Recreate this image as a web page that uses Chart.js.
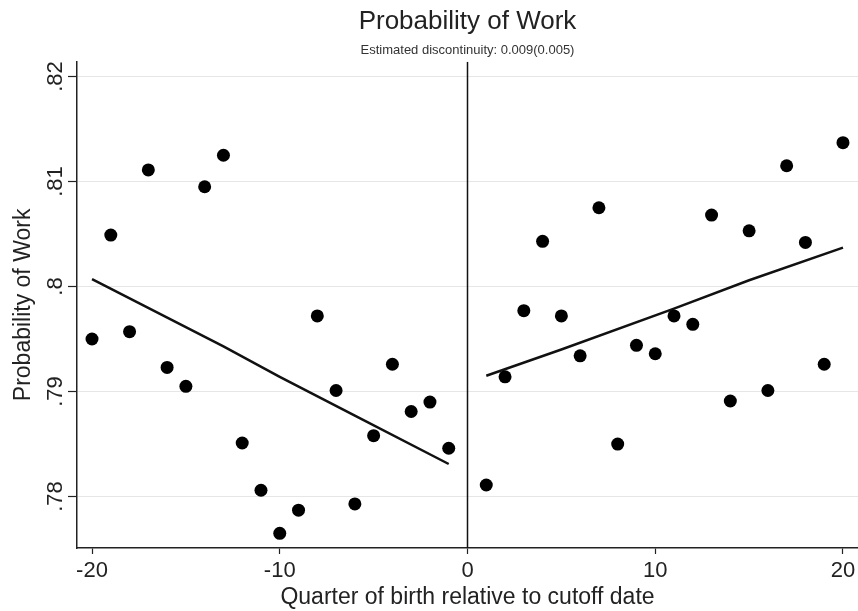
<!DOCTYPE html>
<html>
<head>
<meta charset="utf-8">
<script src="https://cdn.jsdelivr.net/npm/chart.js@4.4.1/dist/chart.umd.min.js"></script>
<style>
  html, body { margin: 0; padding: 0; background: #fff; }
  #wrap { width: 858px; height: 611px; }
</style>
</head>
<body>
<div id="wrap"><canvas id="rdChart" width="858" height="611"></canvas></div>
<script>
// quarter of birth relative to cutoff, mean probability of work
const leftQuarters = [-20, -19, -18, -17, -16, -15, -14, -13, -12, -11, -10, -9, -8, -7, -6, -5, -4, -3, -2, -1];
const leftWork = [0.7950, 0.8049, 0.7957, 0.8111, 0.7923, 0.7905, 0.8095, 0.8125, 0.7851, 0.7806,
                  0.7765, 0.7787, 0.7972, 0.7901, 0.7793, 0.7858, 0.7926, 0.7881, 0.7890, 0.7846];
const rightQuarters = [1, 2, 3, 4, 5, 6, 7, 8, 9, 10, 11, 12, 13, 14, 15, 16, 17, 18, 19, 20];
const rightWork = [0.7811, 0.7914, 0.7977, 0.8043, 0.7972, 0.7934, 0.8075, 0.7850, 0.7944, 0.7936,
                   0.7972, 0.7964, 0.8068, 0.7891, 0.8053, 0.7901, 0.8115, 0.8042, 0.7926, 0.8137];

// fitted lines on each side of the cutoff
const leftFitX = [-20, -13, -10, -6, -1];
const leftFitY = [0.8007, 0.7943, 0.7914, 0.7877, 0.7831];
const rightFitX = [1, 5, 11, 15, 20];
const rightFitY = [0.7915, 0.7940, 0.7979, 0.8006, 0.8037];

const cutoff = 0;
const xTicks = [-20, -10, 0, 10, 20];
const yTicks = [0.78, 0.79, 0.80, 0.81, 0.82];
const yTickLabels = ['.78', '.79', '.8', '.81', '.82'];

const xMin = -20.8, xMax = 20.8;
const yMin = 0.7751, yMax = 0.8214;

const FONT = '"Liberation Sans", Arial, Helvetica, sans-serif';
Chart.defaults.font.family = FONT;
Chart.defaults.color = '#222';

const toPoints = (xs, ys) => xs.map((x, i) => ({ x: x, y: ys[i] }));

const dotStyle = {
    showLine: false,
    pointRadius: 6.5,
    pointBackgroundColor: '#000',
    pointBorderColor: '#000',
    pointBorderWidth: 0
};
const fitStyle = {
    showLine: true,
    pointRadius: 0,
    borderColor: '#111',
    borderWidth: 2.5,
    fill: false
};

const ctx = document.getElementById('rdChart').getContext('2d');
new Chart(ctx, {
    type: 'scatter',
    data: {
        datasets: [
            Object.assign({ label: 'before', data: toPoints(leftQuarters, leftWork) }, dotStyle),
            Object.assign({ label: 'after', data: toPoints(rightQuarters, rightWork) }, dotStyle),
            Object.assign({ label: 'fit before', data: toPoints(leftFitX, leftFitY) }, fitStyle),
            Object.assign({ label: 'fit after', data: toPoints(rightFitX, rightFitY) }, fitStyle),
            {
                label: 'cutoff',
                data: [{ x: cutoff, y: yMin }, { x: cutoff, y: yMax }],
                showLine: true,
                pointRadius: 0,
                borderColor: '#111',
                borderWidth: 1.5
            }
        ]
    },
    options: {
        responsive: false,
        animation: false,
        layout: { autoPadding: false, padding: { left: 0, right: 0, top: 0, bottom: 0 } },
        plugins: {
            legend: { display: false },
            tooltip: { enabled: false },
            title: {
                display: true,
                text: 'Probability of Work',
                fullSize: false,
                color: '#222',
                font: { size: 26, weight: 'normal' },
                padding: { top: 6, bottom: 5 }
            },
            subtitle: {
                display: true,
                text: 'Estimated discontinuity: 0.009(0.005)',
                fullSize: false,
                color: '#333',
                font: { size: 13, weight: 'normal' },
                padding: { top: 0, bottom: 4 }
            }
        },
        scales: {
            x: {
                type: 'linear',
                min: xMin,
                max: xMax,
                afterBuildTicks: s => { s.ticks = xTicks.map(v => ({ value: v })); },
                afterFit: s => { s.height = 63; s.paddingLeft = 0; s.paddingRight = 0; },
                grid: { drawOnChartArea: false, drawTicks: true, tickLength: 6, tickColor: '#222', tickWidth: 1.2 },
                border: { color: '#222', width: 1.5 },
                ticks: { color: '#222', font: { size: 22 }, padding: 4, maxRotation: 0, autoSkip: false },
                title: {
                    display: true,
                    text: 'Quarter of birth relative to cutoff date',
                    color: '#222',
                    font: { size: 23 },
                    padding: { top: 0, bottom: 0 }
                }
            },
            y: {
                min: yMin,
                max: yMax,
                afterBuildTicks: s => { s.ticks = yTicks.map(v => ({ value: v })); },
                afterFit: s => { s.width = 77; },
                grid: { color: '#e6e6e6', lineWidth: 1, drawTicks: true, tickLength: 9, tickColor: '#222', tickWidth: 1.2 },
                border: { color: '#222', width: 1.5 },
                ticks: {
                    color: '#222',
                    font: { size: 22 },
                    padding: -3,
                    minRotation: 90,
                    maxRotation: 90,
                    crossAlign: 'center',
                    autoSkip: false,
                    callback: (v, i) => yTickLabels[i]
                },
                title: {
                    display: true,
                    text: 'Probability of Work',
                    color: '#222',
                    font: { size: 23 },
                    padding: { top: 10, bottom: 0 }
                }
            }
        }
    }
});
</script>
</body>
</html>
